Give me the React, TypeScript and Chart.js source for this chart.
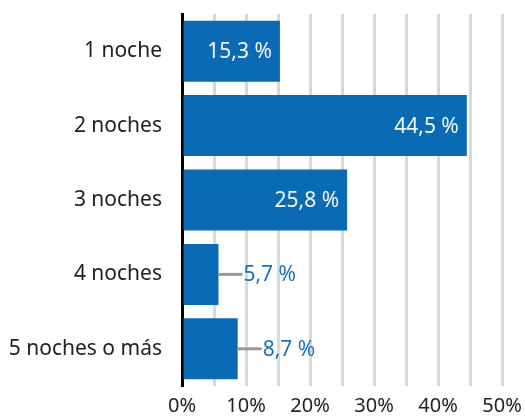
import React, { useEffect, useRef } from "react";
import { Chart, registerables } from "chart.js";

Chart.register(...registerables);

const categories = ["1 noche", "2 noches", "3 noches", "4 noches", "5 noches o más"];
const values = [15.3, 44.5, 25.8, 5.7, 8.7];
const valueLabels = ["15,3 %", "44,5 %", "25,8 %", "5,7 %", "8,7 %"];
const xTickLabels: Record<number, string> = { 0: "0%", 10: "10%", 20: "20%", 30: "30%", 40: "40%", 50: "50%" };

const FONT = "'Noto Sans', 'Open Sans', sans-serif";
const BAR = "#0b6ab4";

const labelPlugin = {
  id: "valueLabels",
  afterDatasetsDraw(chart: any) {
    const { ctx } = chart;
    const meta = chart.getDatasetMeta(0);
    ctx.save();
    ctx.font = `21px ${FONT}`;
    ctx.textBaseline = "middle";
    meta.data.forEach((bar: any, i: number) => {
      const v = values[i];
      const x = bar.x;
      const y = bar.y;
      if (v > 10) {
        ctx.fillStyle = "#f2f6fa";
        ctx.textAlign = "right";
        ctx.fillText(valueLabels[i], x - 8, y + 1);
      } else {
        ctx.strokeStyle = "#999999";
        ctx.lineWidth = 3;
        ctx.beginPath();
        ctx.moveTo(x, y);
        ctx.lineTo(x + 24, y);
        ctx.stroke();
        ctx.fillStyle = "#1a72bd";
        ctx.textAlign = "left";
        ctx.fillText(valueLabels[i], x + 25, y + 1);
      }
    });
    ctx.restore();
  },
};

export default function App() {
  const ref = useRef<HTMLCanvasElement>(null);
  useEffect(() => {
    if (!ref.current) return;
    const chart = new Chart(ref.current, {
      type: "bar",
      data: {
        labels: categories,
        datasets: [
          {
            data: values,
            backgroundColor: BAR,
            borderWidth: 0,
            categoryPercentage: 1,
            barPercentage: 0.82,
          },
        ],
      },
      plugins: [labelPlugin],
      options: {
        indexAxis: "y",
        animation: false,
        responsive: true,
        maintainAspectRatio: false,
        layout: { padding: { top: 14, right: 23, left: 0, bottom: 0 } },
        plugins: { legend: { display: false }, tooltip: { enabled: false } },
        scales: {
          x: {
            min: 0,
            max: 50,
            afterFit: (s: any) => {
              s.height = 33;
              s.paddingLeft = 0;
              s.paddingRight = 0;
            },
            ticks: {
              stepSize: 5,
              autoSkip: false,
              maxRotation: 0,
              padding: 8,
              color: "#222222",
              font: { family: FONT, size: 20 },
              callback: (v: any) => xTickLabels[v as number] ?? "",
            },
            grid: { color: "#d9d9d9", lineWidth: 3, drawTicks: false },
            border: { display: false },
          },
          y: {
            afterFit: (s: any) => {
              s.width = 182;
              s.paddingTop = 0;
              s.paddingBottom = 0;
            },
            ticks: {
              padding: 20,
              color: "#222222",
              font: { family: FONT, size: 21 },
            },
            grid: { drawOnChartArea: false, drawTicks: false },
            border: { display: true, color: "#000000", width: 3 },
          },
        },
      },
    });
    return () => chart.destroy();
  }, []);
  return (
    <div style={{ position: "fixed", left: 0, top: 0, width: 525, height: 419 }}>
      <canvas ref={ref} />
    </div>
  );
}
